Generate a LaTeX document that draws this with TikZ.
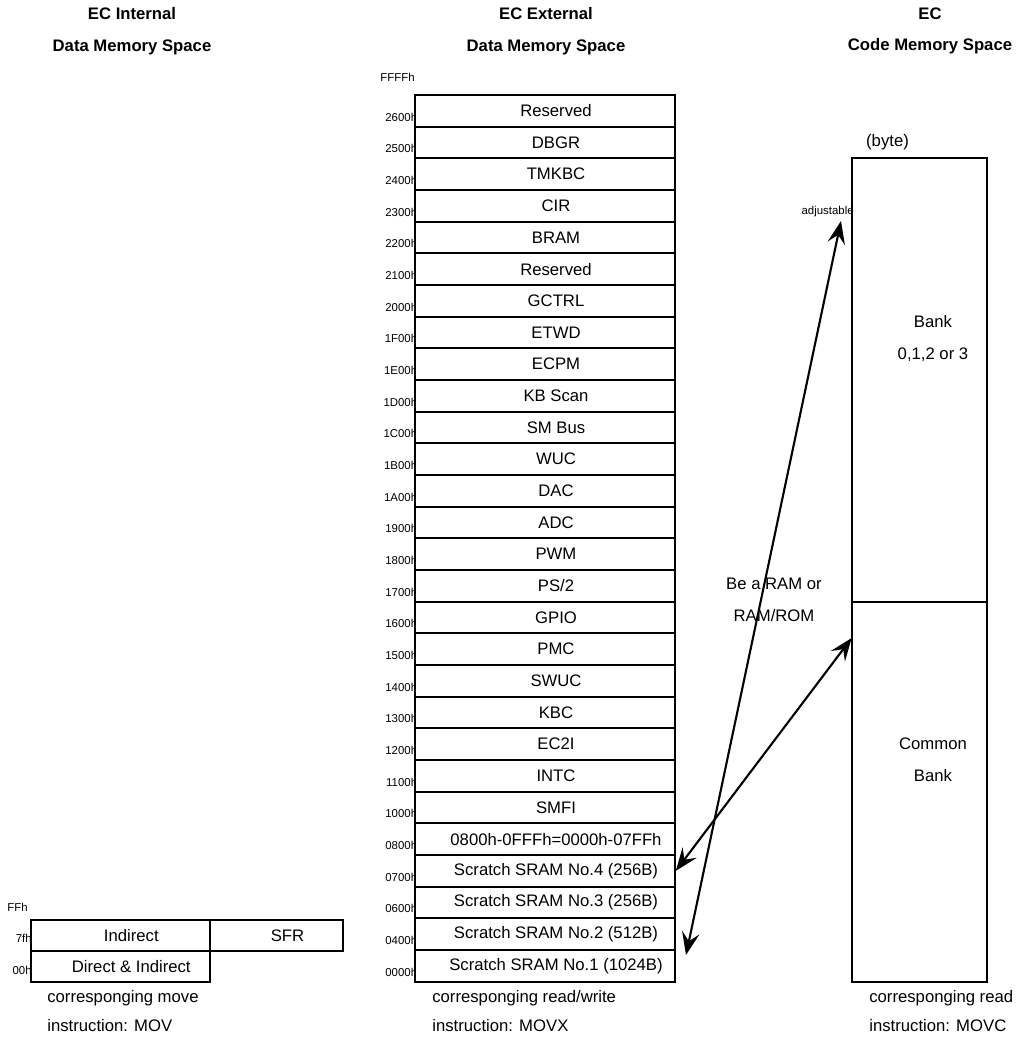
\documentclass[tikz,border=0pt]{standalone}
\usepackage{fontspec}
\setmainfont{Liberation Sans}
\usetikzlibrary{arrows.meta}
\begin{document}
\begin{tikzpicture}[
  x=0.02cm, y=-0.02cm,
  cell/.style={draw, line width=1pt, fill=white, inner sep=0pt, minimum height=0.6333cm, font=\fontsize{9.5}{11}\selectfont, execute at begin node={\hspace*{0.44cm}}},
  seg/.style={cell, minimum width=5.2cm},
  blk/.style={draw, line width=1pt, minimum width=2.7cm},
  addr/.style={anchor=east, inner sep=0pt, font=\fontsize{6.5}{7.5}\selectfont},
  head/.style={align=center, font=\fontsize{9.5}{18}\selectfont\bfseries},
  txt/.style={align=center, font=\fontsize{9.5}{18}\selectfont},
  note/.style={align=left, anchor=west, inner sep=0pt, font=\fontsize{9.5}{16}\selectfont},
  link/.style={line width=1.2pt, {Stealth[length=13pt,width=10pt,inset=5pt]}-{Stealth[length=13pt,width=10pt,inset=5pt]}}
]
\useasboundingbox (0,0) rectangle (1021,1038);

\node[head] (hint) at (132, 31) {EC Internal\\Data Memory Space};
\node[head] (hext) at (546, 31) {EC External\\Data Memory Space};
\node[head] (hcode) at (930, 31) {EC\\Code Memory Space};

\node[addr] (aFF) at (28, 907) {FFh};
\node[addr] (a7f) at (32, 938) {7fh};
\node[addr] (a00) at (32, 970) {00h};
\node[cell, minimum width=3.587cm] (ind) at (120.3, 935.5) {Indirect};
\node[cell, minimum width=2.66cm] (sfr) at (276.5, 935.5) {SFR};
\node[cell, minimum width=3.587cm] (dir) at (120.3, 966.5) {Direct \& Indirect};
\node[note] (cmov) at (47, 1011) {corresponging move\\instruction: MOV};

\node[addr, anchor=east] (aFFFF) at (415, 77) {FFFFh};
\node[addr] (a2600) at (417.5, 117.0) {2600h};
\node[addr] (a2500) at (417.5, 148.6) {2500h};
\node[addr] (a2400) at (417.5, 180.3) {2400h};
\node[addr] (a2300) at (417.5, 212.0) {2300h};
\node[addr] (a2200) at (417.5, 243.6) {2200h};
\node[addr] (a2100) at (417.5, 275.3) {2100h};
\node[addr] (a2000) at (417.5, 307.0) {2000h};
\node[addr] (a1F00) at (417.5, 338.6) {1F00h};
\node[addr] (a1E00) at (417.5, 370.3) {1E00h};
\node[addr] (a1D00) at (417.5, 402.0) {1D00h};
\node[addr] (a1C00) at (417.5, 433.6) {1C00h};
\node[addr] (a1B00) at (417.5, 465.3) {1B00h};
\node[addr] (a1A00) at (417.5, 497.0) {1A00h};
\node[addr] (a1900) at (417.5, 528.6) {1900h};
\node[addr] (a1800) at (417.5, 560.3) {1800h};
\node[addr] (a1700) at (417.5, 592.0) {1700h};
\node[addr] (a1600) at (417.5, 623.6) {1600h};
\node[addr] (a1500) at (417.5, 655.3) {1500h};
\node[addr] (a1400) at (417.5, 687.0) {1400h};
\node[addr] (a1300) at (417.5, 718.6) {1300h};
\node[addr] (a1200) at (417.5, 750.3) {1200h};
\node[addr] (a1100) at (417.5, 782.0) {1100h};
\node[addr] (a1000) at (417.5, 813.6) {1000h};
\node[addr] (a0800) at (417.5, 845.3) {0800h};
\node[addr] (a0700) at (417.5, 877.0) {0700h};
\node[addr] (a0600) at (417.5, 908.6) {0600h};
\node[addr] (a0400) at (417.5, 940.3) {0400h};
\node[addr] (a0000) at (417.5, 972.0) {0000h};

\node[seg] (res1) at (545, 110.8) {Reserved};
\node[seg] (dbgr) at (545, 142.5) {DBGR};
\node[seg] (tmkbc) at (545, 174.2) {TMKBC};
\node[seg] (cir) at (545, 205.8) {CIR};
\node[seg] (bram) at (545, 237.5) {BRAM};
\node[seg] (res2) at (545, 269.2) {Reserved};
\node[seg] (gctrl) at (545, 300.8) {GCTRL};
\node[seg] (etwd) at (545, 332.5) {ETWD};
\node[seg] (ecpm) at (545, 364.2) {ECPM};
\node[seg] (kbscan) at (545, 395.8) {KB Scan};
\node[seg] (smbus) at (545, 427.5) {SM Bus};
\node[seg] (wuc) at (545, 459.2) {WUC};
\node[seg] (dac) at (545, 490.8) {DAC};
\node[seg] (adc) at (545, 522.5) {ADC};
\node[seg] (pwm) at (545, 554.2) {PWM};
\node[seg] (ps2) at (545, 585.8) {PS/2};
\node[seg] (gpio) at (545, 617.5) {GPIO};
\node[seg] (pmc) at (545, 649.2) {PMC};
\node[seg] (swuc) at (545, 680.8) {SWUC};
\node[seg] (kbc) at (545, 712.5) {KBC};
\node[seg] (ectwoi) at (545, 744.2) {EC2I};
\node[seg] (intc) at (545, 775.8) {INTC};
\node[seg] (smfi) at (545, 807.5) {SMFI};
\node[seg] (mirror) at (545, 839.2) {0800h-0FFFh=0000h-07FFh};
\node[seg] (sram4) at (545, 870.8) {Scratch SRAM No.4 (256B)};
\node[seg] (sram3) at (545, 902.5) {Scratch SRAM No.3 (256B)};
\node[seg] (sram2) at (545, 934.2) {Scratch SRAM No.2 (512B)};
\node[seg] (sram1) at (545, 965.8) {Scratch SRAM No.1 (1024B)};
\node[note] (cmovx) at (432, 1011) {corresponging read/write\\instruction: MOVX};

\node[txt] (byte) at (887.5, 141.7) {(byte)};
\node[blk, minimum height=8.868cm] (bank) at (919.2, 380) {};
\node[blk, minimum height=7.6cm] (common) at (919.2, 791.7) {};
\node[txt] (banktxt) at (933, 338.5) {Bank\\0,1,2 or 3};
\node[txt] (commontxt) at (933, 759.5) {Common\\Bank};
\node[addr] (adjust) at (854, 212) {adjustable};
\node[note] (cmovc) at (869, 1011) {corresponging read\\instruction: MOVC};

\node[txt] (ramrom) at (774, 600) {Be a RAM or\\RAM/ROM};

\coordinate (adjtip) at (841, 221);
\coordinate (sramtip) at (686, 955);
\coordinate (commontip) at (851.7, 638);
\draw[link] (sramtip) -- (adjtip);
\draw[link] (sram4.east) -- (commontip);
\end{tikzpicture}
\end{document}
